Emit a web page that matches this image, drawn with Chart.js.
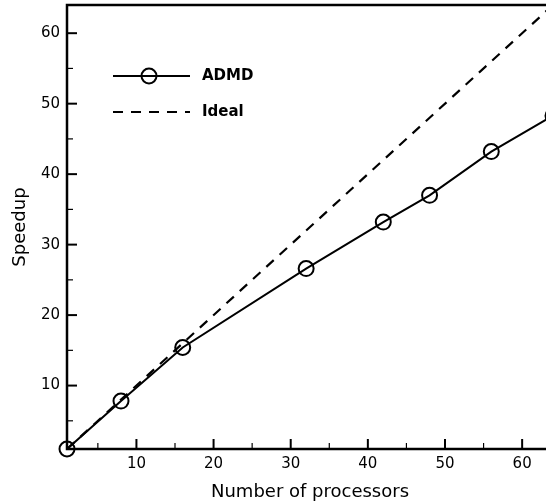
<!DOCTYPE html>
<html><head><meta charset="utf-8">
<script src="https://cdn.jsdelivr.net/npm/chart.js@4"></script>
<style>html,body{margin:0;padding:0;overflow:hidden;background:#fff}#wrap{width:560px;height:503px}</style>
</head><body><div id="wrap"><canvas id="c" width="560" height="503"></canvas></div>
<script>
const processors = [1, 8, 16, 32, 42, 48, 56, 64];
const speedupADMD = [1, 7.8, 15.4, 26.6, 33.2, 37.0, 43.2, 48.3];
const idealX = [1, 64];
const idealY = [1, 64];
const majorTicks = [10, 20, 30, 40, 50, 60];
const minorTicks = [5, 15, 25, 35, 45, 55];
const seriesNames = ['ADMD', 'Ideal'];

const FAM = '"DejaVu Sans", "Liberation Sans", sans-serif';

function noPad(s) { s.paddingTop = 0; s.paddingBottom = 0; s.paddingLeft = 0; s.paddingRight = 0; }

const framePlugin = {
  id: 'frame',
  afterDatasetsDraw(chart) {
    const {ctx, chartArea: a, scales: {x, y}} = chart;
    ctx.save();
    ctx.strokeStyle = '#000';
    ctx.lineCap = 'butt';
    ctx.lineWidth = 2.5;
    ctx.beginPath();
    ctx.moveTo(a.left, a.top); ctx.lineTo(a.right, a.top);
    ctx.lineTo(a.right, a.bottom); ctx.lineTo(a.left, a.bottom); ctx.closePath();
    ctx.stroke();
    ctx.lineWidth = 2;
    majorTicks.forEach(v => {
      const px = x.getPixelForValue(v);
      ctx.beginPath(); ctx.moveTo(px, a.bottom); ctx.lineTo(px, a.bottom - 10); ctx.stroke();
      const py = y.getPixelForValue(v);
      ctx.beginPath(); ctx.moveTo(a.left, py); ctx.lineTo(a.left + 10, py); ctx.stroke();
    });
    ctx.lineWidth = 1.2;
    minorTicks.forEach(v => {
      const px = x.getPixelForValue(v);
      ctx.beginPath(); ctx.moveTo(px, a.bottom); ctx.lineTo(px, a.bottom - 6); ctx.stroke();
      const py = y.getPixelForValue(v);
      ctx.beginPath(); ctx.moveTo(a.left, py); ctx.lineTo(a.left + 6, py); ctx.stroke();
    });
    const lx0 = 113, lx1 = 190, ly1 = 76, ly2 = 112, tx = 202;
    ctx.lineWidth = 2;
    ctx.beginPath(); ctx.moveTo(lx0, ly1); ctx.lineTo(lx1, ly1); ctx.stroke();
    ctx.beginPath(); ctx.arc(149, ly1, 7.5, 0, Math.PI * 2); ctx.stroke();
    ctx.setLineDash([10, 8]);
    ctx.beginPath(); ctx.moveTo(lx0, ly2); ctx.lineTo(lx1, ly2); ctx.stroke();
    ctx.setLineDash([]);
    ctx.fillStyle = '#000';
    ctx.font = 'bold 15px ' + FAM;
    ctx.textBaseline = 'middle';
    ctx.textAlign = 'left';
    ctx.fillText(seriesNames[0], tx, ly1);
    ctx.fillText(seriesNames[1], tx, ly2);
    ctx.restore();
  }
};

new Chart(document.getElementById('c'), {
  type: 'scatter',
  data: {
    datasets: [
      {
        label: seriesNames[0],
        data: processors.map((p, i) => ({x: p, y: speedupADMD[i]})),
        showLine: true,
        borderColor: '#000',
        borderWidth: 2,
        pointRadius: 7.5,
        pointHoverRadius: 7.5,
        pointBorderWidth: 2,
        pointBorderColor: '#000',
        pointBackgroundColor: 'rgba(0,0,0,0)',
        clip: false,
        order: 0
      },
      {
        label: seriesNames[1],
        data: idealX.map((p, i) => ({x: p, y: idealY[i]})),
        showLine: true,
        borderColor: '#000',
        borderWidth: 2.2,
        borderDash: [10, 8],
        pointRadius: 0,
        order: 1
      }
    ]
  },
  options: {
    responsive: false,
    animation: false,
    events: [],
    layout: {autoPadding: false, padding: {top: 5, right: 7, left: 0, bottom: 0}},
    plugins: {legend: {display: false}, tooltip: {enabled: false}},
    scales: {
      x: {
        type: 'linear', min: 1, max: 64,
        afterBuildTicks: s => { s.ticks = majorTicks.map(v => ({value: v})); },
        afterFit: s => { s.height = 54; noPad(s); },
        grid: {display: false, drawTicks: false},
        border: {display: false},
        ticks: {color: '#000', font: {family: FAM, size: 15}, padding: 6, maxRotation: 0, autoSkip: false},
        title: {display: true, text: 'Number of processors', color: '#000', font: {family: FAM, size: 18}, padding: {top: 4, bottom: 0}}
      },
      y: {
        type: 'linear', min: 1, max: 64,
        afterBuildTicks: s => { s.ticks = majorTicks.map(v => ({value: v})); },
        afterFit: s => { s.width = 67; noPad(s); },
        grid: {display: false, drawTicks: false},
        border: {display: false},
        ticks: {color: '#000', font: {family: FAM, size: 15}, padding: 7, autoSkip: false},
        title: {display: true, text: 'Speedup', color: '#000', font: {family: FAM, size: 18}, padding: {top: 10, bottom: 0}}
      }
    }
  },
  plugins: [framePlugin]
});
</script>
</body></html>
